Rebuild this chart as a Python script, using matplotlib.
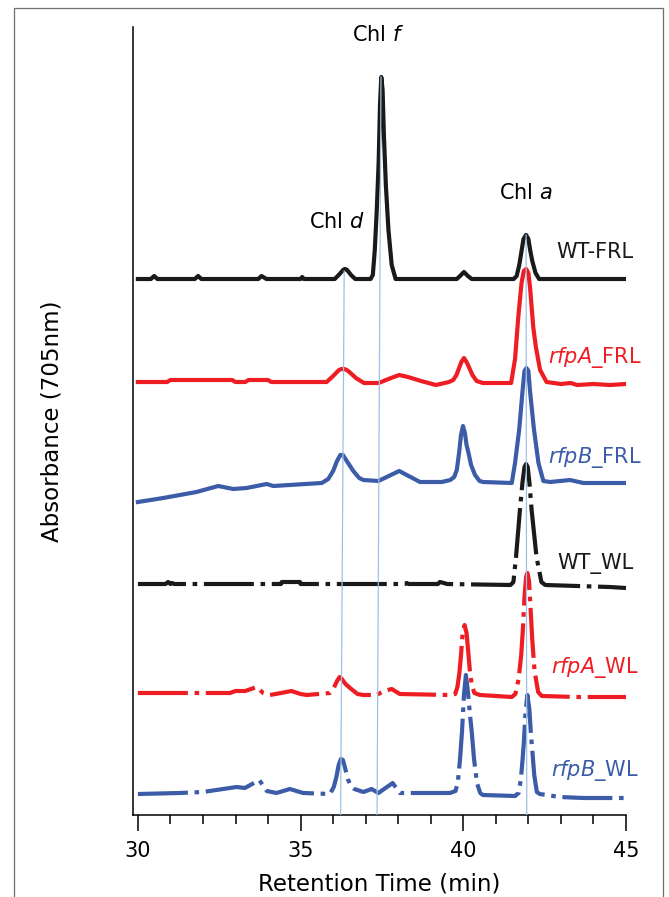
import matplotlib.pyplot as plt
from matplotlib.ticker import MultipleLocator
from matplotlib.patches import Rectangle

# HPLC traces (retention time in min, absorbance in arbitrary stacked units)
wt_frl_t = [30.0, 30.4, 30.5, 30.6, 31.75, 31.85, 31.95, 33.7, 33.8, 33.95, 35.0, 35.05, 35.1,
            36.05, 36.2, 36.32, 36.37, 36.43, 36.55, 36.68, 37.15, 37.22, 37.28, 37.34, 37.40,
            37.44, 37.48, 37.52, 37.56, 37.62, 37.70, 37.80, 37.92, 39.8, 39.9, 40.02, 40.14,
            40.26, 41.55, 41.64, 41.72, 41.78, 41.85, 41.93, 42.0, 42.06, 42.12, 42.22, 42.33, 45.0]
wt_frl_v = [53.6, 53.6, 53.9, 53.6, 53.6, 53.9, 53.6, 53.6, 53.9, 53.6, 53.6, 53.8, 53.6,
            53.6, 54.1, 54.55, 54.6, 54.5, 54.0, 53.6, 53.6, 54.0, 56.5, 60.4, 65.4,
            71.0, 73.8, 72.5, 68.0, 63.0, 58.5, 55.0, 53.6, 53.6, 53.9, 54.3, 53.9,
            53.6, 53.6, 53.9, 55.0, 56.2, 57.6, 58.0, 57.6, 56.4, 55.4, 54.2, 53.6, 53.6]

rfpa_frl_t = [30.0, 30.9, 31.0, 32.9, 33.0, 33.3, 33.4, 34.0, 34.1, 35.8, 36.0, 36.18, 36.26,
              36.34, 36.42, 36.5, 36.7, 36.95, 37.4, 37.7, 38.03, 38.3, 38.7, 39.16, 39.56,
              39.69, 39.79, 39.86, 39.94, 40.02, 40.1, 40.2, 40.28, 40.41, 40.6, 41.47, 41.59,
              41.69, 41.79, 41.86, 41.93, 42.0, 42.05, 42.15, 42.23, 42.36, 42.56, 43.0, 43.3,
              43.5, 44.0, 44.5, 45.0]
rfpa_frl_v = [43.3, 43.3, 43.5, 43.5, 43.3, 43.3, 43.5, 43.5, 43.3, 43.3, 43.9, 44.5, 44.6,
              44.6, 44.5, 44.3, 43.7, 43.2, 43.2, 43.6, 44.0, 43.8, 43.4, 43.0, 43.3,
              43.5, 44.0, 44.6, 45.3, 45.7, 45.3, 44.6, 44.0, 43.4, 43.2, 43.2, 45.6,
              49.8, 53.2, 54.4, 54.6, 54.2, 52.8, 48.8, 46.8, 44.5, 43.3, 43.1, 43.2,
              43.0, 43.1, 43.0, 43.1]

rfpb_frl_t = [30.0, 30.78, 31.8, 32.47, 32.93, 33.34, 33.96, 34.16, 35.65, 35.85, 36.0, 36.12,
              36.22, 36.3, 36.4, 36.5, 36.62, 36.8, 36.93, 37.39, 38.03, 38.67, 39.34, 39.6,
              39.72, 39.8, 39.87, 39.93, 39.99, 40.05, 40.1, 40.16, 40.24, 40.36, 40.5, 40.61,
              41.49, 41.59, 41.72, 41.82, 41.88, 41.94, 42.0, 42.05, 42.17, 42.31, 42.46, 42.67,
              43.28, 43.69, 45.0]
rfpb_frl_v = [31.3, 31.7, 32.3, 32.9, 32.6, 32.7, 33.1, 32.9, 33.2, 33.6, 34.4, 35.4,
              36.0, 36.0, 35.5, 35.0, 34.4, 33.7, 33.5, 33.4, 34.4, 33.3, 33.3, 33.5,
              33.8, 34.5, 36.2, 38.0, 38.9, 38.2, 37.0, 36.2, 35.0, 34.0, 33.4, 33.3,
              33.2, 35.2, 38.6, 42.4, 44.4, 44.7, 44.4, 42.4, 38.6, 35.2, 33.4, 33.3,
              33.5, 33.2, 33.2]

wt_wl_t = [30.0, 30.85, 30.93, 31.0, 31.05, 31.12, 34.4, 34.42, 34.98, 35.0, 38.2, 38.26,
           38.32, 39.22, 39.28, 39.4, 39.5, 41.45, 41.54, 41.62, 41.74, 41.82, 41.88, 41.93,
           41.98, 42.03, 42.1, 42.25, 42.4, 42.52, 43.5, 44.5, 45.0]
wt_wl_v = [23.1, 23.1, 23.3, 23.1, 23.2, 23.1, 23.1, 23.3, 23.3, 23.1, 23.1, 23.2,
           23.1, 23.1, 23.3, 23.2, 23.1, 23.0, 23.3, 25.8, 30.5, 33.3, 34.8, 35.1,
           34.8, 33.3, 30.5, 25.8, 23.3, 23.0, 22.9, 22.8, 22.7]

rfpa_wl_t = [30.0, 32.83, 33.0, 33.3, 33.65, 33.85, 34.06, 34.4, 34.72, 35.0, 35.19, 35.9,
             36.02, 36.12, 36.2, 36.27, 36.38, 36.52, 36.75, 36.93, 37.34, 37.55, 37.8, 38.05,
             39.59, 39.75, 39.82, 39.88, 39.93, 39.98, 40.04, 40.1, 40.15, 40.2, 40.26, 40.34,
             40.51, 41.49, 41.6, 41.7, 41.78, 41.83, 41.88, 41.93, 41.97, 42.02, 42.07, 42.12,
             42.19, 42.3, 42.41, 43.49, 45.0]
rfpa_wl_v = [12.2, 12.2, 12.4, 12.4, 12.8, 12.2, 12.0, 12.2, 12.4, 12.1, 12.0, 12.2,
             12.7, 13.4, 13.8, 13.6, 13.1, 12.7, 12.1, 12.0, 12.0, 12.4, 12.6, 12.1,
             12.0, 12.1, 12.8, 14.2, 16.0, 18.2, 19.0, 18.2, 16.4, 14.5, 13.0, 12.2,
             12.0, 11.8, 12.1, 13.6, 16.0, 18.5, 21.8, 23.8, 24.2, 23.4, 20.5, 17.5,
             14.4, 12.3, 11.9, 11.8, 11.8]

rfpb_wl_t = [30.0, 31.29, 32.0, 33.03, 33.29, 33.73, 33.96, 34.26, 34.67, 35.08, 35.9, 36.02,
             36.1, 36.17, 36.24, 36.3, 36.36, 36.45, 36.55, 36.65, 36.93, 37.18, 37.39, 37.83,
             38.05, 39.59, 39.76, 39.83, 39.9, 39.96, 40.02, 40.08, 40.14, 40.2, 40.26, 40.33,
             40.42, 40.52, 40.6, 41.59, 41.7, 41.77, 41.82, 41.86, 41.91, 41.97, 42.03, 42.08,
             42.12, 42.18, 42.26, 42.35, 42.97, 43.69, 45.0]
rfpb_wl_v = [2.1, 2.2, 2.3, 2.8, 2.7, 3.5, 2.4, 2.2, 2.6, 2.2, 2.1, 2.8,
             3.8, 5.0, 5.6, 5.5, 4.8, 3.6, 2.9, 2.6, 2.3, 2.6, 2.2, 3.2,
             2.2, 2.2, 2.4, 3.2, 5.6, 8.3, 12.0, 14.0, 12.4, 10.2, 8.3, 5.6,
             3.2, 2.2, 2.0, 1.9, 2.2, 3.6, 5.5, 7.2, 10.2, 12.0, 10.6, 8.0,
             6.5, 4.0, 2.3, 2.1, 1.8, 1.7, 1.7]

# pigment guide lines: bottom time, top time, top value
guide_t0 = [36.23, 37.35, 41.95]
guide_t1 = [36.34, 37.47, 41.93]
guide_top = [54.4, 73.8, 58.0]

pigment_names = ['Chl $\\it{d}$', 'Chl $\\it{f}$', 'Chl $\\it{a}$']
pigment_pos = [(36.12, 59.3), (37.38, 78.0), (41.93, 62.2)]

trace_names = ['WT-FRL', '$\\it{rfpA}$_FRL', '$\\it{rfpB}$_FRL',
               'WT_WL', '$\\it{rfpA}$_WL', '$\\it{rfpB}$_WL']
trace_label_v = [56.3, 45.8, 35.8, 25.2, 14.8, 4.5]

black = '#1a1a1a'
red = '#ee1d23'
blue = '#3c5ca8'
colors = [black, red, blue, black, red, blue]
dashdot = (0, (12, 1.6, 1.1, 1.6))
styles = ['-', '-', '-', dashdot, dashdot, dashdot]

traces = [(wt_frl_t, wt_frl_v), (rfpa_frl_t, rfpa_frl_v), (rfpb_frl_t, rfpb_frl_v),
          (wt_wl_t, wt_wl_v), (rfpa_wl_t, rfpa_wl_v), (rfpb_wl_t, rfpb_wl_v)]

fig = plt.figure(figsize=(6.69, 8.97), dpi=100)
ax = fig.add_axes([133/669, 1-815/897, 493/669, 788/897])

for i in range(len(traces)):
    t, v = traces[i]
    ax.plot(t, v, color=colors[i], linestyle=styles[i], lw=3.0,
            solid_joinstyle='round', dash_joinstyle='round')
    ax.text(44.05, trace_label_v[i], trace_names[i], color=colors[i], fontsize=15,
            ha='center', va='center')

for i in range(len(guide_t0)):
    ax.plot([guide_t0[i], guide_t1[i]], [0, guide_top[i]], color='#9cc2e5', lw=0.9, zorder=5)

for name, (x, y) in zip(pigment_names, pigment_pos):
    ax.text(x, y, name, fontsize=15, ha='center', va='center', color='black')

ax.set_xlim(29.85, 45)
ax.set_ylim(0, 78.8)
ax.spines['top'].set_visible(False)
ax.spines['right'].set_visible(False)
ax.spines['left'].set_linewidth(1.1)
ax.spines['bottom'].set_linewidth(1.1)
ax.set_yticks([])
ax.set_xticks([30, 35, 40, 45])
ax.xaxis.set_minor_locator(MultipleLocator(1))
ax.tick_params(axis='x', which='major', length=11.5, width=1.1, labelsize=15, pad=7)
ax.tick_params(axis='x', which='minor', length=6.5, width=1.1)

ax.set_xlabel('Retention Time (min)', fontsize=16.5, va='center')
ax.xaxis.set_label_coords(0.5, (815-884)/788)
ax.set_ylabel('Absorbance (705nm)', fontsize=16.5, va='center')
ax.yaxis.set_label_coords((52-133)/493, 0.5)

# thin frame round the panel
fig.patches.append(Rectangle((14/669, -0.05), (663-14)/669, 1.05-8/897,
                             transform=fig.transFigure, fill=False,
                             edgecolor='#6e6e6e', lw=0.9))

plt.savefig('out.png', dpi=100)
